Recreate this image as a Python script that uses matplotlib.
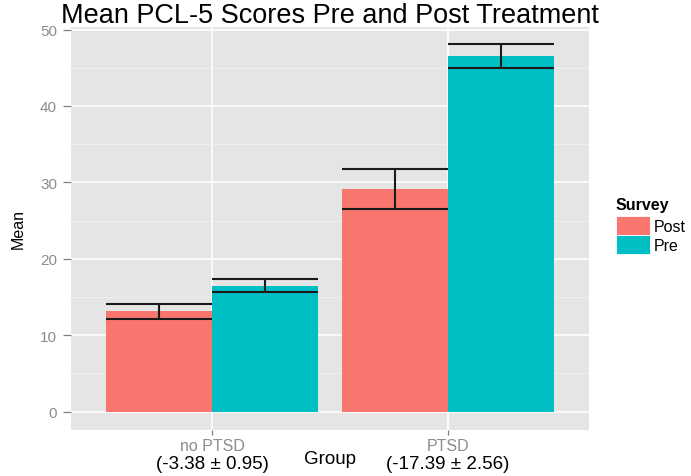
import matplotlib
matplotlib.use("Agg")
import matplotlib.pyplot as plt
import matplotlib.transforms as mtransforms
from matplotlib.patches import Patch
import numpy as np

plt.rcParams['font.family'] = ['Liberation Sans', 'DejaVu Sans']

groups = ["no PTSD", "PTSD"]
surveys = ["Post", "Pre"]
post_mean = [13.15, 29.1]
pre_mean = [16.5, 46.5]
post_se = [1.0, 2.6]
pre_se = [0.87, 1.57]
change_labels = ["(-3.38 \u00b1 0.95)", "(-17.39 \u00b1 2.56)"]
colors = {"Post": "#F8766D", "Pre": "#00BFC4"}

W, H = 691, 477
fig = plt.figure(figsize=(W/100, H/100), dpi=100)
L, R, T, B = 70.7, 589.0, 27.5, 431.0
ax = fig.add_axes([L/W, 1 - B/H, (R-L)/W, (B-T)/H])
ax.set_facecolor("#E5E5E5")

x = np.arange(1, len(groups) + 1)
w = 0.45
series = [("Post", post_mean, post_se, -w/2), ("Pre", pre_mean, pre_se, w/2)]
for name, means, se, off in series:
    xs = x + off
    ax.bar(xs, means, width=w, color=colors[name], zorder=2)
    lo = np.array(means) - np.array(se)
    hi = np.array(means) + np.array(se)
    ax.vlines(xs, lo, hi, color="#1a1a1a", lw=1.5, zorder=3)
    ax.hlines(lo, xs - w/2, xs + w/2, color="#1a1a1a", lw=1.5, zorder=3)
    ax.hlines(hi, xs - w/2, xs + w/2, color="#1a1a1a", lw=1.5, zorder=3)

ax.set_xlim(0.4, 2.6)
ax.set_ylim(-2.4, 50.4)
ax.set_yticks([0, 10, 20, 30, 40, 50])
ax.set_yticks([5, 15, 25, 35, 45], minor=True)
ax.set_xticks(x)
ax.set_xticklabels(groups)
ax.grid(which="major", color="white", lw=1.2, zorder=0)
ax.grid(which="minor", axis="y", color="#F2F2F2", lw=0.6, zorder=0)
ax.set_axisbelow(True)
for s in ax.spines.values():
    s.set_visible(False)
ax.tick_params(axis="y", which="major", color="#7F7F7F", length=5.5, width=0.9,
               labelcolor="#8C8C8C", labelsize=11, pad=4.3)
ax.tick_params(axis="x", which="major", color="#7F7F7F", length=3.6, width=0.9,
               labelcolor="#8C8C8C", labelsize=11.5, pad=2.5)
ax.tick_params(axis="y", which="minor", length=0)

ax.set_ylabel("Mean", fontsize=11.5)
ax.yaxis.set_label_coords((18.5 - L)/(R - L), 0.5)
ax.yaxis.label.set_va("center")
ax.set_xlabel("Group", fontsize=13.5)
ax.xaxis.set_label_coords((330 - L)/(R - L), (B - 464.5)/(B - T))
ax.xaxis.label.set_va("baseline")

fig.text((L + R)/2/W, 1 - 23/H, "Mean PCL-5 Scores Pre and Post Treatment",
         ha="center", va="baseline", fontsize=19.5)

trans = mtransforms.blended_transform_factory(ax.transData, fig.transFigure)
for xi, lab in zip(x, change_labels):
    fig.text(xi, 1 - 469.5/H, lab, transform=trans, ha="center", va="baseline", fontsize=13.5)

fs = 11.5
px = fs * 100 / 72
handles = [Patch(facecolor=colors[s], edgecolor="white", lw=0.6) for s in surveys]
leg = fig.legend(handles, surveys, title="Survey", loc="upper left",
                 bbox_to_anchor=(616/W, 1 - 198/H), frameon=False,
                 handlelength=34/px, handleheight=23/px, labelspacing=0.0,
                 handletextpad=4/px, fontsize=fs, borderaxespad=0, borderpad=0)
leg.get_title().set_fontweight("bold")
leg.get_title().set_fontsize(11.5)
leg._legend_box.align = "left"
leg._legend_box.sep = 3

fig.savefig("out.png", dpi=100)
